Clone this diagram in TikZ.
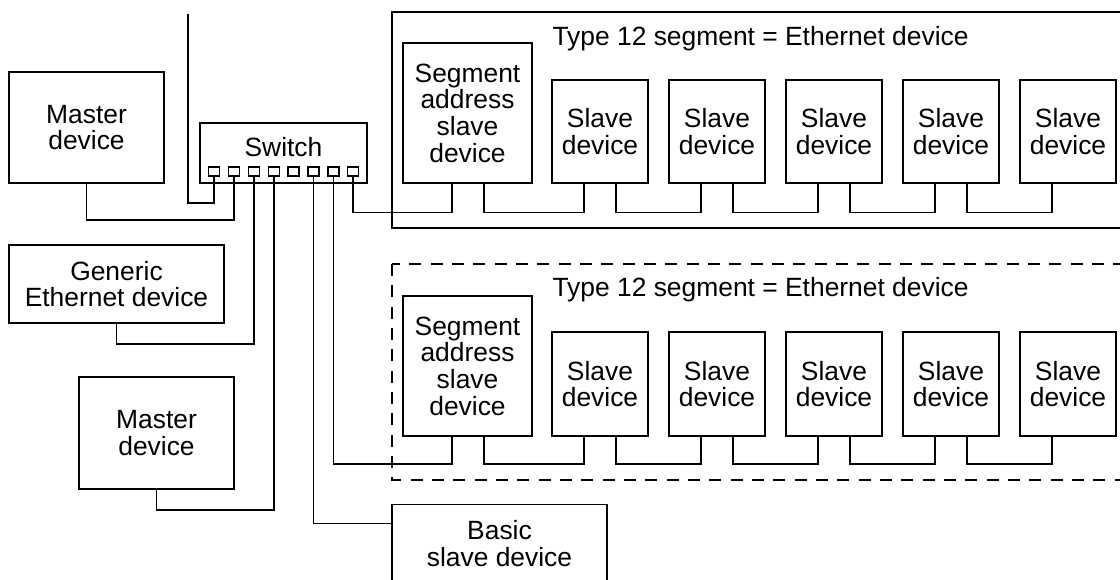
\documentclass[tikz,border=0pt]{standalone}
\usepackage{fontspec}
\setmainfont{Liberation Sans}
\usetikzlibrary{calc}
\tikzset{
  box/.style 2 args={draw, rectangle, inner sep=0pt, align=center,
    minimum width=#1*0.75pt, minimum height=#2*0.75pt},
  port/.style={draw, rectangle, inner sep=0pt, minimum width=11*0.75pt, minimum height=9*0.75pt, line width=1pt},
  wire/.style={line width=1.25pt},
  lbl/.style={inner sep=0pt, anchor=base west},
  frame/.style={line width=1.25pt},
  dframe/.style={line width=1.6pt, dash pattern=on 9pt off 7pt},
}
\begin{document}
\begin{tikzpicture}[x=0.75pt, y=-0.75pt, line width=1.25pt,
  every node/.append style={font=\fontsize{19.8pt}{20pt}\selectfont}]
\useasboundingbox (0,0) rectangle (1120,579);
\clip (0,0) rectangle (1120,579);

% left devices
\node[box={155}{111}] (m1) at (86.5,127.5) {Master\\device};
\node[box={215}{78}] (gen) at (116.5,284) {Generic\\Ethernet device};
\node[box={155}{112}] (m2) at (156.5,433) {Master\\device};
\node[box={215}{78}] (basic) at (499.5,543.5) {Basic\\slave device};

% switch
\node[box={167}{60}] (sw) at (283.5,153) {};
\node[inner sep=0pt, anchor=base] (swl) at (283.5,156.5) {Switch};
\foreach \i in {1,...,8}{
  \node[port] (p\i) at ({214+19.9*(\i-1)},171.5) {};
}

% segment frames
\draw[frame] (392,12) rectangle (1140,228);
\draw[dframe] (392,264) rectangle (1140,480);
\node[lbl] (t1) at (551.7,45.7) {Type 12 segment = Ethernet device};
\node[lbl] (t2) at (551.7,296.7) {Type 12 segment = Ethernet device};

% top segment
\node[box={129}{140}] (sa1) at (467.5,113) {Segment\\address\\slave\\device};
\foreach \k in {1,...,5}{
  \node[box={96}{103}] (s1\k) at ({600+117*(\k-1)},131.5) {Slave\\device};
}
% bottom segment
\node[box={129}{140}] (sa2) at (467.5,366) {Segment\\address\\slave\\device};
\foreach \k in {1,...,5}{
  \node[box={96}{104}] (s2\k) at ({600+117*(\k-1)},384) {Slave\\device};
}

% bus wiring top
\draw[wire] ($(sa1.south)+(16.5,0)$) -- ++(0,28.5) -| ($(s11.south)+(-16,0)$);
\draw[wire] ($(s11.south)+(16,0)$) -- ++(0,28.5) -| ($(s12.south)+(-16,0)$);
\draw[wire] ($(s12.south)+(16,0)$) -- ++(0,28.5) -| ($(s13.south)+(-16,0)$);
\draw[wire] ($(s13.south)+(16,0)$) -- ++(0,28.5) -| ($(s14.south)+(-16,0)$);
\draw[wire] ($(s14.south)+(16,0)$) -- ++(0,28.5) -| ($(s15.south)+(-16,0)$);
% bus wiring bottom
\draw[wire] ($(sa2.south)+(16.5,0)$) -- ++(0,27) -| ($(s21.south)+(-16,0)$);
\draw[wire] ($(s21.south)+(16,0)$) -- ++(0,27) -| ($(s22.south)+(-16,0)$);
\draw[wire] ($(s22.south)+(16,0)$) -- ++(0,27) -| ($(s23.south)+(-16,0)$);
\draw[wire] ($(s23.south)+(16,0)$) -- ++(0,27) -| ($(s24.south)+(-16,0)$);
\draw[wire] ($(s24.south)+(16,0)$) -- ++(0,27) -| ($(s25.south)+(-16,0)$);

% switch wiring
\coordinate (up) at (188,14);
\coordinate (c1) at (188,203);
\draw[wire] (p1.south) |- (c1) -- (up);
\draw[wire] (p2.south) -- ++(0,43) -| (m1.south);
\draw[wire] (p3.south) -- ++(0,167) -| (gen.south);
\draw[wire] (p4.south) -- ++(0,333) -| (m2.south);
\coordinate (b6) at (392,523.5);
\draw[wire] (p6.south) |- (b6);
\draw[wire] (p7.south) |- ($(sa2.south)+(-15.5,27)$) -- ++(0,-27);
\draw[wire] (p8.south) |- ($(sa1.south)+(-15.5,28.5)$) -- ++(0,-28.5);
\end{tikzpicture}
\end{document}
